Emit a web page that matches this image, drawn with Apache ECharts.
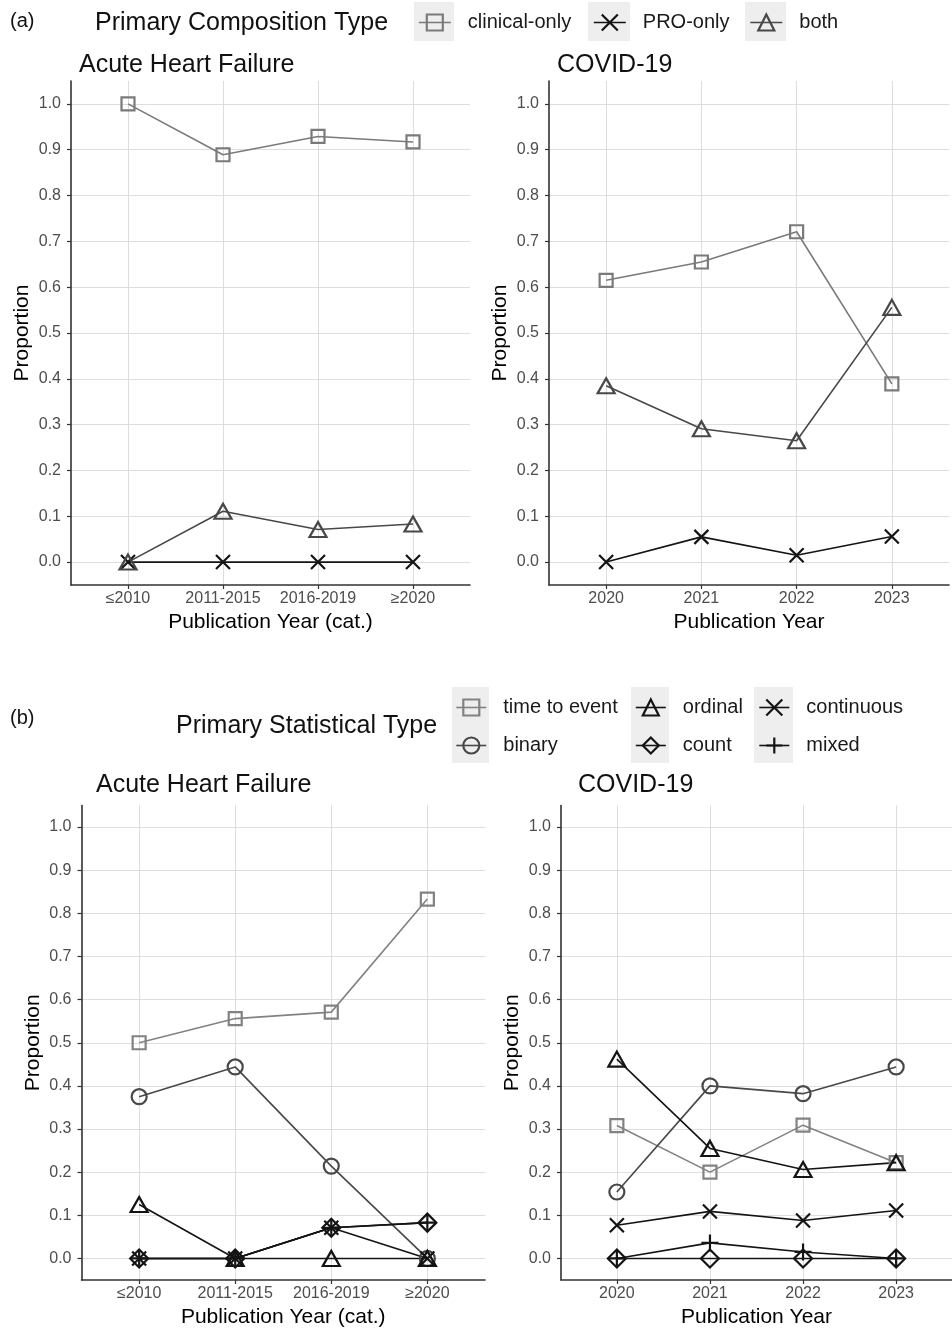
<!DOCTYPE html>
<html><head><meta charset="utf-8">
<script src="https://cdn.jsdelivr.net/npm/echarts@6/dist/echarts.min.js"></script>
<style>html,body{margin:0;padding:0;background:#fff}#c{width:952px;height:1329px}</style>
</head><body><div id="c"></div>
<script>
// ---------- data ----------
const catsAHF = ['≤2010', '2011-2015', '2016-2019', '≥2020'];
const yearsCOVID = ['2020', '2021', '2022', '2023'];
const yTicks = [0, 0.1, 0.2, 0.3, 0.4, 0.5, 0.6, 0.7, 0.8, 0.9, 1.0];

// (a) Primary Composition Type
const compTypes = ['clinical-only', 'PRO-only', 'both'];
const ahfClinicalOnly = [1.0, 0.889, 0.929, 0.917];
const ahfProOnly = [0, 0, 0, 0];
const ahfBoth = [0, 0.111, 0.071, 0.083];
const covClinicalOnly = [0.615, 0.655, 0.721, 0.389];
const covProOnly = [0, 0.055, 0.015, 0.056];
const covBoth = [0.385, 0.291, 0.265, 0.556];

// (b) Primary Statistical Type
const statTypes = ['time to event', 'binary', 'ordinal', 'count', 'continuous', 'mixed'];
const ahfTimeToEvent = [0.5, 0.556, 0.571, 0.833];
const ahfBinary = [0.375, 0.444, 0.214, 0];
const ahfOrdinal = [0.125, 0, 0, 0];
const ahfCount = [0, 0, 0.071, 0.083];
const ahfContinuous = [0, 0, 0.071, 0];
const ahfMixed = [0, 0, 0.071, 0.083];
const covTimeToEvent = [0.308, 0.2, 0.309, 0.222];
const covBinary = [0.154, 0.4, 0.382, 0.444];
const covOrdinal = [0.462, 0.255, 0.206, 0.222];
const covCount = [0, 0, 0, 0];
const covContinuous = [0.077, 0.109, 0.088, 0.111];
const covMixed = [0, 0.036, 0.015, 0];

// ---------- style ----------
const FONT = "'Liberation Sans', Arial, Helvetica, sans-serif";
const X_PATH = 'path://M0,0L10,10M10,0L0,10';
const PLUS_PATH = 'path://M5,0L5,10M0,5L10,5';
const styles = {
  'clinical-only': { symbol: 'rect', size: 13, color: '#7a7a7a' },
  'PRO-only': { symbol: X_PATH, size: 14, color: '#141414' },
  'both': { symbol: 'triangle', size: [17, 15], color: '#484848' },
  'time to event': { symbol: 'rect', size: 13, color: '#828282' },
  'binary': { symbol: 'circle', size: 15, color: '#484848' },
  'ordinal': { symbol: 'triangle', size: [17, 15], color: '#141414' },
  'count': { symbol: 'diamond', size: [18, 18], color: '#141414' },
  'continuous': { symbol: X_PATH, size: 14, color: '#141414' },
  'mixed': { symbol: PLUS_PATH, size: 17, color: '#141414' }
};

function xAxis(gi, cats, name) {
  const pos = cats.map((c, i) => i);
  return {
    type: 'value', gridIndex: gi, min: -0.6, max: cats.length - 0.4,
    name: name, nameLocation: 'middle', nameGap: 27,
    nameTextStyle: { fontSize: 21, color: '#000', fontFamily: FONT },
    axisLine: { show: true, onZero: false, lineStyle: { color: '#333', width: 1.6 } },
    axisTick: { show: true, length: 4, customValues: pos, lineStyle: { color: '#333', width: 1.2 } },
    axisLabel: { customValues: pos, formatter: v => cats[Math.round(v)], fontSize: 16, color: '#4d4d4d', margin: 6, fontFamily: FONT },
    splitLine: { show: true, lineStyle: { color: '#dedede', width: 1 } }
  };
}
function yAxis(gi) {
  return {
    type: 'value', gridIndex: gi, min: -0.05, max: 1.05,
    name: 'Proportion', nameLocation: 'middle', nameGap: 38,
    nameTextStyle: { fontSize: 21, color: '#000', fontFamily: FONT },
    axisLine: { show: true, onZero: false, lineStyle: { color: '#333', width: 1.6 } },
    axisTick: { show: true, length: 4, customValues: yTicks, lineStyle: { color: '#333', width: 1.2 } },
    axisLabel: { customValues: yTicks, formatter: v => v.toFixed(1), fontSize: 16, color: '#4d4d4d', margin: 10, fontFamily: FONT },
    splitLine: { show: true, lineStyle: { color: '#dedede', width: 1 } }
  };
}
function series(name, vals, cats, gi) {
  const s = styles[name];
  return {
    type: 'line', name: name, xAxisIndex: gi, yAxisIndex: gi,
    data: cats.map((c, i) => [i, vals[i]]),
    symbol: s.symbol, symbolSize: s.size, showAllSymbol: true,
    lineStyle: { color: s.color, width: 1.6 },
    itemStyle: { color: 'rgba(0,0,0,0)', borderColor: s.color, borderWidth: 2.2 },
    emphasis: { disabled: true }, silent: true
  };
}
function legend(name, left, cy, iw) {
  const s = styles[name];
  return {
    data: [name], left: left, top: cy - 9.5, itemWidth: iw, itemHeight: 20, padding: 0,
    selectedMode: false,
    textStyle: { fontSize: 20, color: '#1a1a1a', fontFamily: FONT, padding: [0, 0, 0, 12] },
    itemStyle: { color: 'rgba(0,0,0,0)', borderColor: s.color, borderWidth: 2.2 },
    lineStyle: { color: s.color, width: 1.6 }
  };
}
function title(text, left, top, size) {
  return { text: text, left: left, top: top, padding: 0,
    textStyle: { fontSize: size, fontWeight: 'normal', color: '#111', fontFamily: FONT } };
}
function bg(x, y, w, h) {
  return { type: 'rect', shape: { x: x, y: y, width: w, height: h }, style: { fill: '#eeeeee' }, z: -1, silent: true };
}

const option = {
  animation: false,
  backgroundColor: '#fff',
  title: [
    title('(a)', 10, 11, 20),
    title('Primary Composition Type', 95, 11, 25),
    title('Acute Heart Failure', 79, 53, 25),
    title('COVID-19', 557, 53, 25),
    title('(b)', 10, 708, 20),
    title('Primary Statistical Type', 176, 714, 25),
    title('Acute Heart Failure', 96, 773, 25),
    title('COVID-19', 578, 773, 25)
  ],
  graphic: [
    bg(414, 2, 40, 39), bg(588, 2, 42, 39), bg(745, 2, 41, 39),
    bg(452, 687, 37, 76), bg(631, 687, 38, 76), bg(754, 687, 39, 76)
  ],
  legend: [
    legend('clinical-only', 418, 22, 32),
    legend('PRO-only', 593, 22, 32),
    legend('both', 749.5, 22, 32),
    legend('time to event', 455.5, 707, 30),
    legend('binary', 455.5, 745, 30),
    legend('ordinal', 635, 707, 30),
    legend('count', 635, 745, 30),
    legend('continuous', 758.5, 707, 30),
    legend('mixed', 758.5, 745, 30)
  ],
  grid: [
    { left: 71, top: 81, width: 399, height: 504 },
    { left: 549, top: 81, width: 400, height: 504 },
    { left: 81.5, top: 805.5, width: 403.5, height: 474.5 },
    { left: 561, top: 805.5, width: 404, height: 474.5 }
  ],
  xAxis: [
    xAxis(0, catsAHF, 'Publication Year (cat.)'),
    xAxis(1, yearsCOVID, 'Publication Year'),
    xAxis(2, catsAHF, 'Publication Year (cat.)'),
    xAxis(3, yearsCOVID, 'Publication Year')
  ],
  yAxis: [yAxis(0), yAxis(1), yAxis(2), yAxis(3)],
  series: [
    series('clinical-only', ahfClinicalOnly, catsAHF, 0),
    series('PRO-only', ahfProOnly, catsAHF, 0),
    series('both', ahfBoth, catsAHF, 0),
    series('clinical-only', covClinicalOnly, yearsCOVID, 1),
    series('PRO-only', covProOnly, yearsCOVID, 1),
    series('both', covBoth, yearsCOVID, 1),

    series('time to event', ahfTimeToEvent, catsAHF, 2),
    series('binary', ahfBinary, catsAHF, 2),
    series('ordinal', ahfOrdinal, catsAHF, 2),
    series('count', ahfCount, catsAHF, 2),
    series('continuous', ahfContinuous, catsAHF, 2),
    series('mixed', ahfMixed, catsAHF, 2),
    series('time to event', covTimeToEvent, yearsCOVID, 3),
    series('binary', covBinary, yearsCOVID, 3),
    series('ordinal', covOrdinal, yearsCOVID, 3),
    series('count', covCount, yearsCOVID, 3),
    series('continuous', covContinuous, yearsCOVID, 3),
    series('mixed', covMixed, yearsCOVID, 3)
  ]
};
const chart = echarts.init(document.getElementById('c'), null, { renderer: 'canvas' });
chart.setOption(option);
</script>
</body></html>
